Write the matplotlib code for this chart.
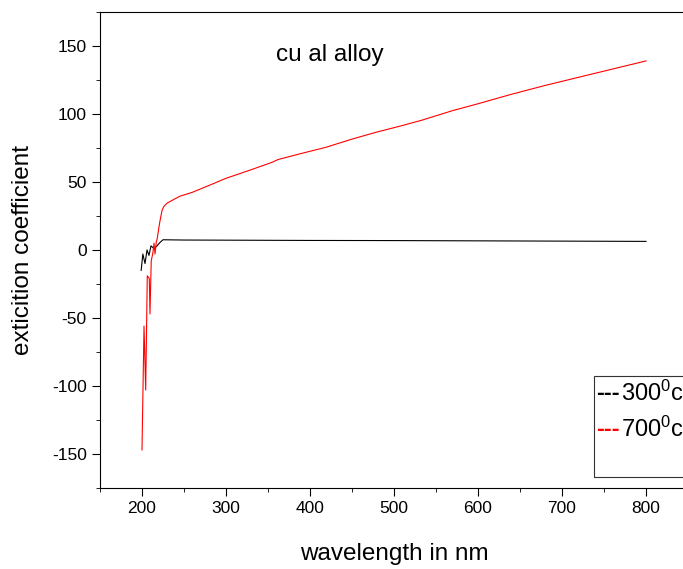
import numpy as np
import matplotlib.pyplot as plt
from matplotlib.patches import Rectangle
from matplotlib.ticker import MultipleLocator

plt.rcParams['font.family'] = ['Liberation Sans', 'DejaVu Sans']
plt.rcParams['mathtext.fontset'] = 'custom'
plt.rcParams['mathtext.rm'] = 'Liberation Sans'
plt.rcParams['mathtext.it'] = 'Liberation Sans'
plt.rcParams['axes.unicode_minus'] = False

# data
wl_300 = [199, 201, 203.6, 206, 208.3, 210.7, 214.3, 217.9, 221.4, 225, 250, 300, 400,
          500, 600, 700, 800]
k_300 = [-15, -3, -10, 0, -4, 3, 1, 3, 5.5, 7.5, 7.3, 7.2, 7.0, 6.9, 6.7, 6.5, 6.3]

wl_700 = [200, 202.4, 204.4, 206.3, 208.7, 209.5, 211, 213, 214.3, 215.5, 217, 218, 221,
          223.8, 226, 230, 236, 245, 260, 280, 300, 330, 355, 362, 390, 419, 450, 479,
          510, 533, 570, 600, 637, 680, 720, 760, 800]
k_700 = [-147, -56, -103, -19, -21, -47, -8, -2, 5, -3, 6, 8, 20,
         29, 32, 34.5, 36.5, 39.5, 42.4, 47.5, 52.7, 59, 64.5, 66.5, 71, 75.5, 81.5, 86.6,
         91.5, 95.4, 102.5, 107.5, 114, 121, 127, 133, 139]

legend_labels = ['300$^0$c', '700$^0$c']
legend_colors = ['black', 'red']

fig = plt.figure(figsize=(6.83, 5.69), dpi=100)
ax = fig.add_axes([0.1464, 0.1424, 0.861, 0.8366])

ax.plot(wl_300, k_300, color='black', lw=0.8)
ax.plot(wl_700, k_700, color='red', lw=0.8)

ax.set_xlim(150, 850)
ax.set_ylim(-175, 175)
ax.xaxis.set_major_locator(MultipleLocator(100))
ax.xaxis.set_minor_locator(MultipleLocator(50))
ax.yaxis.set_major_locator(MultipleLocator(50))
ax.yaxis.set_minor_locator(MultipleLocator(25))
ax.spines['right'].set_visible(False)
ax.tick_params(which='both', direction='out', top=False, right=False, labelsize=12.5)
ax.tick_params(which='major', length=6)
ax.tick_params(which='minor', length=3)
ax.set_xticks([200, 300, 400, 500, 600, 700, 800])

ax.set_xlabel('wavelength in nm', fontsize=17.5)
ax.xaxis.set_label_coords(0.5, -0.115)
ax.set_ylabel('exticition coefficient', fontsize=17.5)
ax.yaxis.set_label_coords(-0.113, 0.5)

ax.text(0.391, 0.91, 'cu al alloy', transform=ax.transAxes, fontsize=17.5,
        ha='center', va='center')

# legend box (cut at the right edge like the original)
ax.add_patch(Rectangle((0.84, 0.023), 0.3, 0.213, transform=ax.transAxes,
                       fill=False, lw=0.8, edgecolor='#333333', clip_on=False))
for i, (lab, col) in enumerate(zip(legend_labels, legend_colors)):
    y = 0.199 - i * 0.076
    ax.text(0.843, y, '---', transform=ax.transAxes, color=col, fontsize=17,
            fontweight='bold', ha='left', va='center', clip_on=False)
    ax.text(0.886, y, lab, transform=ax.transAxes, color='black', fontsize=17,
            ha='left', va='center', clip_on=False)

plt.savefig('out.png', dpi=100)
